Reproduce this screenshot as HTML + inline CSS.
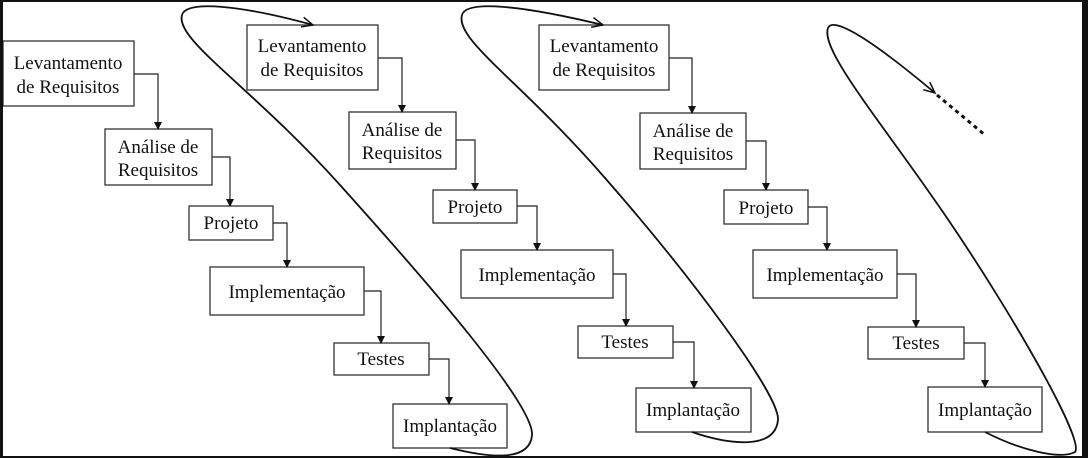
<!DOCTYPE html>
<html><head><meta charset="utf-8"><style>
html,body{margin:0;padding:0;background:#fff}
svg{display:block}
text{font-family:"Liberation Serif",serif;font-size:19px;fill:#111}
</style></head><body>
<svg width="1088" height="458" viewBox="0 0 1088 458" xmlns="http://www.w3.org/2000/svg">
<defs>
<marker id="a" markerWidth="8" markerHeight="8" refX="7" refY="4" orient="auto" markerUnits="userSpaceOnUse"><path d="M0,0 L8,4 L0,8 Z" fill="#111"/></marker>
<marker id="v" markerWidth="14" markerHeight="12" refX="12" refY="6" orient="auto" markerUnits="userSpaceOnUse"><path d="M1,1 L12,6 L1,11" fill="none" stroke="#111" stroke-width="1.5"/></marker>
</defs>
<rect width="1088" height="458" fill="#fff"/>
<g fill="#fff" stroke="#333" stroke-width="1.3">
<rect x="3" y="41" width="131" height="65"/>
<rect x="105" y="129" width="107" height="56"/>
<rect x="189" y="206" width="84" height="34"/>
<rect x="210" y="267" width="154" height="48"/>
<rect x="334" y="343" width="95" height="32"/>
<rect x="393" y="404" width="114" height="44"/>
<rect x="247" y="25" width="131" height="65"/>
<rect x="349" y="112" width="107" height="57"/>
<rect x="433" y="190" width="84" height="33"/>
<rect x="461" y="250" width="152" height="48"/>
<rect x="578" y="326" width="95" height="32"/>
<rect x="636" y="388" width="115" height="44"/>
<rect x="539" y="25" width="130" height="65"/>
<rect x="640" y="113" width="106" height="56"/>
<rect x="724" y="190" width="84" height="34"/>
<rect x="753" y="250" width="144" height="48"/>
<rect x="868" y="327" width="96" height="32"/>
<rect x="928" y="387" width="114" height="45"/>
</g>
<g fill="none" stroke="#222" stroke-width="1.2" marker-end="url(#a)">
<path d="M134,74 H158 V129"/>
<path d="M212,157 H230 V206"/>
<path d="M273,223 H287 V267"/>
<path d="M364,291 H381 V343"/>
<path d="M429,359 H449 V404"/>
<path d="M378,58 H402 V112"/>
<path d="M456,140 H475 V190"/>
<path d="M517,206 H537 V250"/>
<path d="M613,274 H626 V326"/>
<path d="M673,342 H694 V388"/>
<path d="M669,58 H692 V113"/>
<path d="M746,141 H766 V190"/>
<path d="M808,207 H827 V250"/>
<path d="M897,274 H916 V327"/>
<path d="M964,343 H985 V387"/>
</g>
<g fill="none" stroke="#111" stroke-width="1.8">
<path d="M450,448 C490,458 530,462 532,435 C534,405 430,285 340,185 C250,85 175,40 182,15 C186,0 240,5 313,25" marker-end="url(#v)"/>
<path d="M692,432 C730,445 775,450 778,420 C780,395 690,275 605,178 C520,80 455,40 462,15 C466,0 520,5 603,25" marker-end="url(#v)"/>
<path d="M985,432 C1020,450 1060,460 1075,452 C1085,440 1010,310 945,215 C880,120 820,50 828,28 C832,18 860,30 935,93" marker-end="url(#v)"/>
<path d="M937,95 L985,135" stroke-width="3" stroke-dasharray="4,4"/>
</g>
<g text-anchor="middle">
<text x="68" y="69">Levantamento</text><text x="68" y="93">de Requisitos</text>
<text x="158" y="153">Análise de</text><text x="158" y="176">Requisitos</text>
<text x="231" y="229">Projeto</text>
<text x="287" y="298">Implementação</text>
<text x="381" y="365">Testes</text>
<text x="450" y="432">Implantação</text>
<text x="312" y="52">Levantamento</text><text x="312" y="76">de Requisitos</text>
<text x="402" y="136">Análise de</text><text x="402" y="159">Requisitos</text>
<text x="475" y="213">Projeto</text>
<text x="537" y="281">Implementação</text>
<text x="625" y="348">Testes</text>
<text x="693" y="416">Implantação</text>
<text x="604" y="52">Levantamento</text><text x="604" y="76">de Requisitos</text>
<text x="693" y="137">Análise de</text><text x="693" y="160">Requisitos</text>
<text x="766" y="214">Projeto</text>
<text x="825" y="281">Implementação</text>
<text x="916" y="349">Testes</text>
<text x="985" y="416">Implantação</text>
</g>
<rect x="0" y="0" width="3" height="458" fill="#111"/>
<rect x="0" y="0" width="1088" height="2" fill="#111"/>
<rect x="1082" y="0" width="6" height="458" fill="#111"/>
<rect x="0" y="456" width="1088" height="2" fill="#111"/>
</svg>
</body></html>
